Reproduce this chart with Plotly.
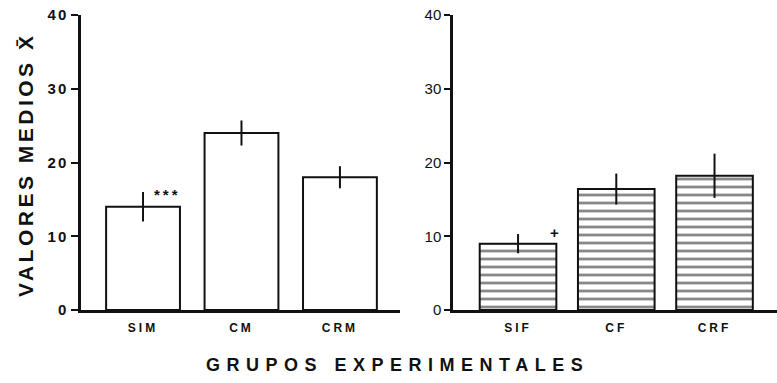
import plotly.graph_objects as go

# Data
groups_m = ["SIM", "CM", "CRM"]
values_m = [14.0, 24.0, 18.0]
errors_m = [2.0, 1.7, 1.5]

groups_f = ["SIF", "CF", "CRF"]
values_f = [9.0, 16.4, 18.2]
errors_f = [1.3, 2.1, 3.0]

y_ticks = [0, 10, 20, 30, 40]

W, H = 777, 383
FONT = "Liberation Sans, Arial, sans-serif"
INK = "#111111"

fig = go.Figure()

fig.add_trace(go.Bar(
    x=groups_m, y=values_m, width=0.75,
    marker=dict(color="white", line=dict(color=INK, width=2)),
    error_y=dict(type="data", array=errors_m, visible=True, color=INK, thickness=2, width=0),
    xaxis="x", yaxis="y", showlegend=False,
))

fig.add_trace(go.Bar(
    x=groups_f, y=values_f, width=0.78,
    marker=dict(color="white", line=dict(color=INK, width=2),
                pattern=dict(shape="-", size=8, solidity=0.35, fgcolor=INK, bgcolor="white")),
    error_y=dict(type="data", array=errors_f, visible=True, color=INK, thickness=2, width=0),
    xaxis="x2", yaxis="y2", showlegend=False,
))

ydom = [(H - 310) / H, (H - 15) / H]
axis_common = dict(showgrid=False, zeroline=False, showline=True, linewidth=2.5,
                   linecolor=INK, automargin=False)

def spaced(t, ls):
    return f'<span style="letter-spacing:{ls}px"><b>{t}</b></span>'

fig.update_layout(
    width=W, height=H,
    margin=dict(l=0, r=0, t=0, b=0, pad=0, autoexpand=False),
    paper_bgcolor="white", plot_bgcolor="white",
    font=dict(family=FONT, color=INK),
    xaxis=dict(domain=[81 / W, 400 / W], anchor="y", range=[-0.63, 2.61],
               ticks="", tickmode="array", tickvals=groups_m,
               ticktext=[spaced(g, 3) for g in groups_m], ticklabelstandoff=5,
               tickfont=dict(size=12, color=INK), **axis_common),
    yaxis=dict(domain=ydom, anchor="x", range=[0, 40], tickvals=y_ticks,
               ticktext=[spaced(v, 2) for v in y_ticks],
               ticks="outside", ticklen=7, tickwidth=2, tickcolor=INK,
               tickfont=dict(size=15, color=INK), **axis_common),
    xaxis2=dict(domain=[453 / W, 1.0], anchor="y2", range=[-0.662, 2.636],
                ticks="", tickmode="array", tickvals=groups_f,
                ticktext=[spaced(g, 3) for g in groups_f], ticklabelstandoff=5,
                tickfont=dict(size=12, color=INK), **axis_common),
    yaxis2=dict(domain=ydom, anchor="x2", range=[0, 40], tickvals=y_ticks,
                ticktext=[str(v) for v in y_ticks],
                ticks="outside", ticklen=6, tickwidth=2, tickcolor=INK,
                tickfont=dict(size=15, color=INK), **axis_common),
)

fig.add_annotation(x="SIM", y=values_m[0], xref="x", yref="y", text=spaced("***", 3),
                   showarrow=False, xshift=24, yshift=12, font=dict(size=15, color=INK))
fig.add_annotation(x="SIF", y=values_f[0], xref="x2", yref="y2", text="<b>+</b>",
                   showarrow=False, xshift=36, yshift=11, font=dict(size=15, color=INK))

fig.add_annotation(x=25 / W, y=(H - 165) / H, xref="paper", yref="paper",
                   xanchor="center", yanchor="middle",
                   text=spaced("VALORES MEDIOS X\u0304", 3.5), textangle=-90,
                   showarrow=False, font=dict(size=21, color=INK))
fig.add_annotation(x=397 / W, y=(H - 365) / H, xref="paper", yref="paper",
                   xanchor="center", yanchor="middle",
                   text=spaced("GRUPOS EXPERIMENTALES", 6.5),
                   showarrow=False, font=dict(size=18, color=INK))

fig.write_html("out.html", config={"displayModeBar": False},
               post_script="document.body.style.margin='0';")
